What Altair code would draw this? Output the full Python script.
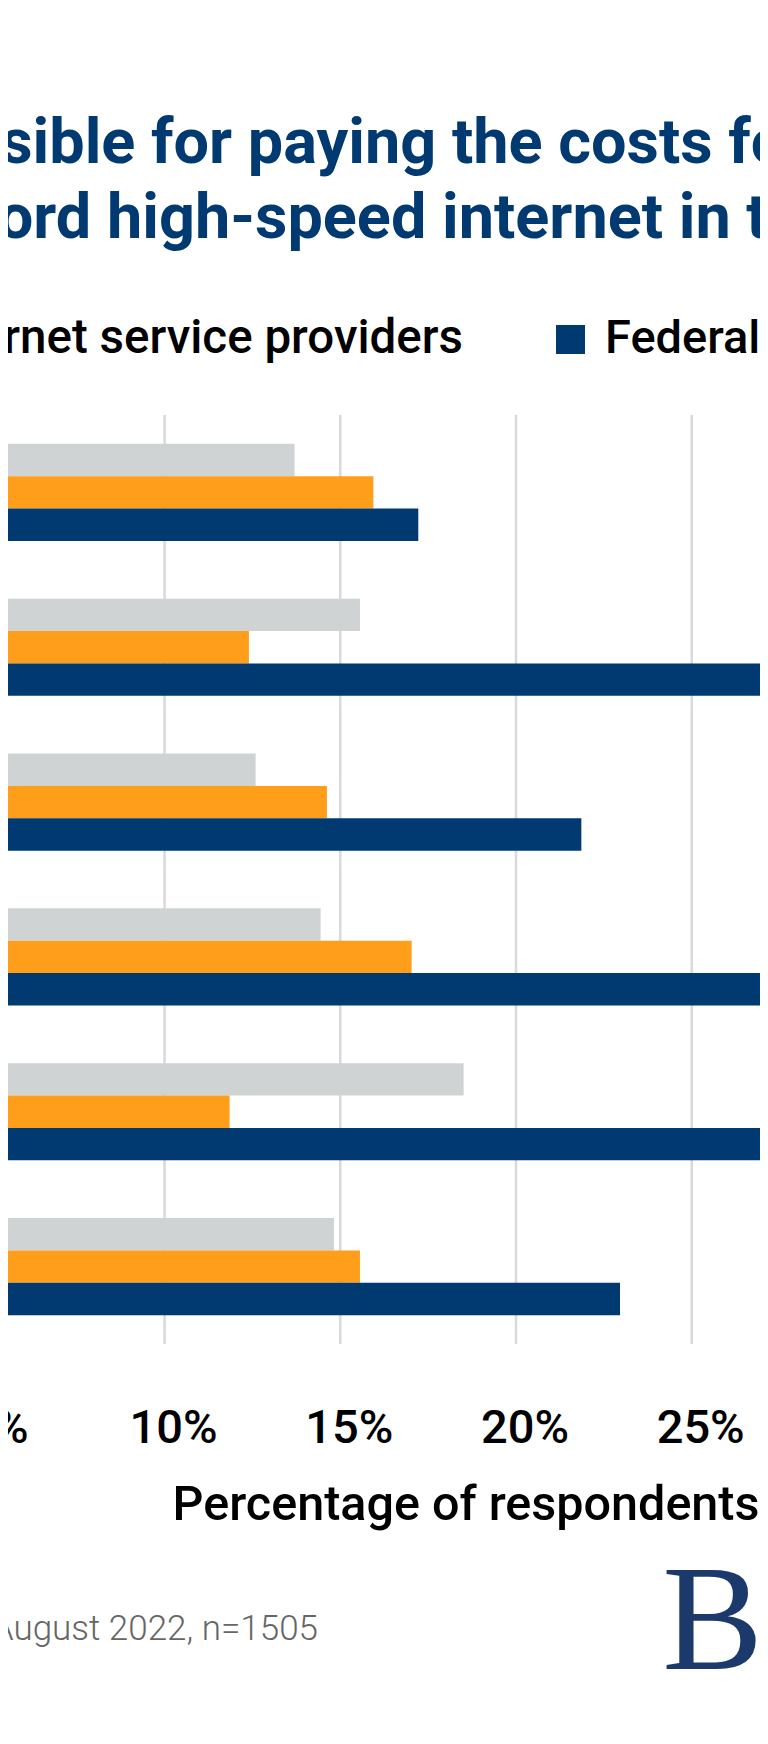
import altair as alt
import pandas as pd

# ---------------- data ----------------
categories = ["Group 1", "Group 2", "Group 3", "Group 4", "Group 5", "Group 6"]
series = ["State and local governments", "Internet service providers", "Federal government"]
series_colors = ["#D0D3D4", "#FF9E1B", "#003A70"]

gray_values = [13.70, 15.56, 12.59, 14.44, 18.51, 14.82]
orange_values = [15.94, 12.40, 14.62, 17.03, 11.85, 15.56]
navy_values = [17.22, 31.0, 21.86, 30.0, 29.0, 22.96]

tick_values = [5, 10, 15, 20, 25, 30]
tick_labels = ["5%", "10%", "15%", "20%", "25%", "30%"]

title_line1 = "responsible for paying the costs for"
title_line2 = "afford high-speed internet in the"
legend_item_mid = "Internet service providers"
legend_item_right = "Federal government"
axis_title = "Percentage of respondents"
source_text = "August 2022, n=1505"
logo_text = "B"

# ---------------- layout ----------------
W = 752
H = 929
PAD_TOP = 407
PAD_BOTTOM = 370
X_DOMAIN = [5.544, 26.944]

NAVY = "#003A70"

rows = []
for i, c in enumerate(categories):
    for s, vals in zip(series, [gray_values, orange_values, navy_values]):
        rows.append({"category": c, "series": s, "value": vals[i]})
bars_df = pd.DataFrame(rows)
ticks_df = pd.DataFrame({"tick": tick_values, "label": tick_labels})

xscale = alt.Scale(domain=X_DOMAIN, zero=False, nice=False)

grid = alt.Chart(ticks_df).mark_rule(color="#D9D9D9", strokeWidth=2.5).encode(
    x=alt.X("tick:Q", scale=xscale, axis=None),
    y=alt.value(0),
    y2=alt.value(H),
)

bars = alt.Chart(bars_df).mark_bar(clip=True).encode(
    y=alt.Y("category:N", sort=categories, axis=None,
            scale=alt.Scale(paddingInner=0.3725, paddingOuter=0.186)),
    yOffset=alt.YOffset("series:N", sort=series,
                        scale=alt.Scale(paddingInner=0, paddingOuter=0)),
    x=alt.X("value:Q", scale=xscale, axis=None),
    x2=alt.datum(0),
    color=alt.Color("series:N", scale=alt.Scale(domain=series, range=series_colors), legend=None),
)

tick_text = alt.Chart(ticks_df).mark_text(
    font="Roboto", fontSize=47, fontWeight=500, color="#000000",
    align="center", baseline="alphabetic", dx=9,
).encode(
    x=alt.X("tick:Q", scale=xscale, axis=None),
    y=alt.value(1028),
    text="label:N",
)


def text_layer(txt, x, y, size, weight, color, align="left", font="Roboto"):
    df = pd.DataFrame({"t": [txt]})
    return alt.Chart(df).mark_text(
        font=font, fontSize=size, fontWeight=weight, color=color,
        align=align, baseline="alphabetic",
    ).encode(x=alt.value(x), y=alt.value(y), text="t:N")


t1 = text_layer(title_line1, -203, -252, 63, "bold", NAVY)
t2 = text_layer(title_line2, -89, -177, 63, "bold", NAVY)
leg_mid = text_layer(legend_item_mid, 455, -62, 47.5, 500, "#000000", align="right")
leg_right = text_layer(legend_item_right, 597, -62, 47, 500, "#000000")
leg_sq = alt.Chart(pd.DataFrame({"s": [legend_item_right]})).mark_square(
    size=841, color=NAVY, opacity=1, filled=True
).encode(x=alt.value(562.5), y=alt.value(-75.5))
ax_title = text_layer(axis_title, 458, 1105, 48.5, 500, "#000000", align="center")
src = text_layer(source_text, 310, 1225, 35, 300, "#666666", align="right")
logo = text_layer(logo_text, 755, 1254, 151, "normal", "#1B3A6B", align="right",
                  font="Liberation Serif")

chart = alt.layer(
    grid, bars, tick_text, t1, t2, leg_mid, leg_right, leg_sq, ax_title, src, logo
).properties(
    width=W,
    height=H,
    autosize=alt.AutoSizeParams(type="none"),
    padding={"left": 0, "top": PAD_TOP, "right": 0, "bottom": PAD_BOTTOM},
).configure_view(stroke=None)

chart.save("out.html", embed_options={"renderer": "svg", "actions": False})
